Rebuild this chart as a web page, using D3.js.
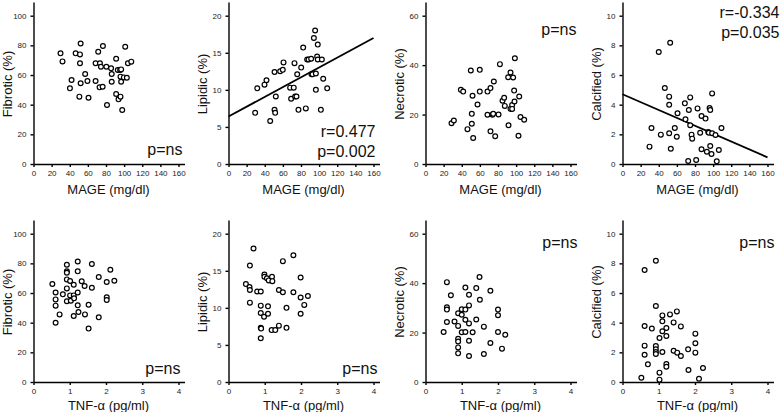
<!DOCTYPE html>
<html>
<head>
<meta charset="utf-8">
<script src="https://cdn.jsdelivr.net/npm/d3@7"></script>
<style>
  body { margin: 0; background: #fff; }
  svg { display: block; }
  .tick text { font-family: "Liberation Sans", Arial, sans-serif; font-size: 8px; fill: #222; }
  .axis path, .axis line { stroke: #000; stroke-width: 1.4; }
  .title { font-family: "Liberation Sans", Arial, sans-serif; font-size: 13px; fill: #111; }
  .stat { font-family: "Liberation Sans", Arial, sans-serif; font-size: 16px; fill: #111; }
</style>
</head>
<body>
<div id="main"></div>
<script>
// tick labels
const mageTicks = [0, 20, 40, 60, 80, 100, 120, 140, 160];
const tnfTicks = [0, 1, 2, 3, 4];
const fibroticTicks = [0, 20, 40, 60, 80, 100];
const lipidicTicks = [0, 5, 10, 15, 20];
const necroticTicks = [0, 20, 40, 60];
const calcifiedTicks = [0, 2, 4, 6, 8, 10];

// [MAGE or TNF-a, plaque %]
const fibroticMage = [[29.8,74.6],[32,69.2],[46.5,74.6],[52,81.3],[51.3,73.9],[51.3,67.9],[50.6,45.4],[42,56.6],[40.2,51],[52,54.4],[57,60.7],[59.5,56],[60.7,44.7],[68.5,56],[68.5,67.9],[71.4,75.7],[73.3,67.9],[74.4,65.6],[76.6,79.6],[72.9,51.7],[76.3,52.1],[80.4,65.6],[81.1,39.8],[85.6,64.5],[86.3,60.7],[86.3,55.5],[91.2,71],[91.2,47.2],[93,63.4],[93.8,43.6],[95.6,63.4],[96,58.9],[96.7,63.8],[96,45.4],[96.7,55.5],[97.9,36.4],[99.7,58.4],[101.2,79.1],[103,58.2],[104.2,67.9],[107.9,69]];
const lipidicMage = [[29.4,6.9],[31.7,10.2],[39.7,10.7],[41.9,11.3],[46,5.8],[50.8,12.4],[50.8,7.3],[51.5,6.9],[52.2,9.1],[57,12.5],[59.9,12.7],[60.7,13.7],[68,10.3],[69.1,8.8],[72,10.3],[72.8,13.6],[73.5,9.1],[75,9.1],[75.8,12.1],[77.2,7.3],[80.2,13],[82.4,15.7],[85.3,7.5],[86.8,14.1],[88.3,14.1],[91.2,14.2],[91.6,12.1],[92.7,12.1],[94.2,17],[95.6,18],[96.4,12.2],[96.4,10],[97.8,14.5],[98.5,14.1],[98.5,16.1],[101.9,7.3],[103,14.1],[104.5,11.5],[108.9,10.2]];
const necroticMage = [[28.7,16.5],[31.3,17.6],[39,30],[41.6,29.3],[46.3,14.1],[50,37.8],[51.1,20.3],[51.1,16.3],[51.9,27.6],[52.6,10.5],[57.4,24.1],[59.9,29.3],[59.9,38.1],[68.4,29.3],[68.4,19.9],[71.7,30.7],[71.7,13.2],[73.9,19.9],[74.7,20.3],[75.4,33.4],[76.9,11.2],[80.6,20],[82.1,40.4],[85,25.6],[86.8,26.8],[87.5,23.5],[91.6,15.7],[91.2,35.1],[93.8,37],[93.8,22.3],[95.6,23.9],[95.6,22.3],[96.7,35],[97.8,29.7],[98.6,42.8],[98.2,25.3],[102.6,11.4],[103.4,27.3],[104.8,19],[108.9,17.9]];
const calcifiedMage = [[29.8,1.17],[32,2.43],[42.3,1.98],[40,7.55],[46.7,5.12],[51.5,4.54],[51.5,4],[51.5,2.07],[52.6,8.18],[53.3,1.03],[57.7,2.43],[59.9,1.84],[60.7,3.42],[68.8,4.09],[69.5,3.01],[72.5,0.2],[73.2,3.64],[74.7,4.49],[74.7,2.61],[76.2,1.98],[76.9,1.71],[81.3,0.27],[82.8,3.75],[85.7,2.11],[87.2,3.24],[87.2,0.99],[91.6,3.06],[93.1,0.83],[94.6,2.16],[95.3,2.11],[96.1,3.78],[96.8,3.64],[96.8,1.21],[98.2,0.67],[98.9,4.76],[98.9,2.07],[102.6,1.96],[104,0.18],[106.3,0.94],[109.2,2.43]];
const fibroticTnf = [[0.52,66.1],[0.61,60.4],[0.61,55.7],[0.61,51.5],[0.61,40],[0.72,45.6],[0.81,59.1],[0.92,79.1],[0.92,74.6],[0.92,73.7],[0.92,69.2],[0.92,63.1],[0.92,54.4],[1.01,68.1],[1.01,58.4],[1.03,54.8],[1.11,65.6],[1.11,58.4],[1.11,44.5],[1.12,56.4],[1.22,81.3],[1.22,74.6],[1.22,60.4],[1.22,51.7],[1.24,47.2],[1.33,67.9],[1.41,64.7],[1.42,45.6],[1.52,52.1],[1.52,36],[1.61,79.6],[1.61,63.6],[1.8,43.6],[1.8,70.8],[2.02,67.4],[2.02,57.1],[2.02,55.3],[2.12,75.7],[2.23,68.3]];
const lipidicTnf = [[0.48,13.2],[0.58,12.8],[0.59,12.4],[0.59,15.7],[0.59,10.7],[0.69,18],[0.79,12.2],[0.89,10.3],[0.89,12.2],[0.89,9.3],[0.89,7.3],[0.89,5.9],[0.9,7.2],[0.98,8.8],[0.99,14.5],[0.99,14.2],[1.06,14],[1.09,10.2],[1.09,9.2],[1.11,13.7],[1.19,7],[1.2,14.2],[1.21,13.6],[1.29,7],[1.39,12.4],[1.39,7.6],[1.5,12.1],[1.5,16.3],[1.6,10],[1.6,7.3],[1.79,17.1],[1.79,12.1],[1.99,14.1],[1.99,11.4],[1.99,9.2],[2.09,10.4],[2.19,11.6]];
const necroticTnf = [[0.5,20.2],[0.59,40.4],[0.59,30.2],[0.59,29.3],[0.59,24.3],[0.7,35.1],[0.8,24.5],[0.9,27.8],[0.9,22.7],[0.9,17.5],[0.9,16.4],[0.9,14],[0.9,11.6],[1,29.4],[1,27.2],[1,20.1],[1.1,38.2],[1.1,29.3],[1.1,25.2],[1.1,20.2],[1.2,35.3],[1.2,31],[1.2,23.7],[1.2,16.7],[1.2,10.5],[1.3,20.1],[1.4,38],[1.4,25.3],[1.49,42.5],[1.5,33.3],[1.61,22.4],[1.61,11.3],[1.79,36.9],[1.79,15.8],[2,29.3],[2,27],[2,20.2],[2.11,13.5],[2.2,19.1]];
const calcifiedTnf = [[0.52,0.29],[0.61,7.55],[0.61,3.78],[0.61,2.45],[0.61,1.84],[0.7,1.19],[0.81,3.6],[0.92,8.18],[0.92,5.12],[0.92,2.43],[0.92,2.2],[0.92,2.02],[0.92,1.89],[1.02,2.97],[1.02,0.63],[1.02,0.16],[1.1,4.49],[1.1,4.09],[1.1,3.42],[1.1,2.02],[1.21,3.64],[1.21,3.1],[1.21,1.21],[1.21,1.03],[1.31,4.56],[1.41,4.02],[1.41,2.11],[1.5,4.76],[1.51,1.98],[1.61,3.75],[1.61,1.75],[1.81,2.2],[1.82,0.81],[2.01,3.26],[2.01,2.61],[2.01,1.98],[2.11,0.22],[2.22,0.94]];

// regression line end points
const lipidicMageFit = [[0, 6.4], [160, 17.0]];
const calcifiedMageFit = [[0, 4.7], [160, 0.45]];

// statistics shown in each panel
const statsText = [
    ['p=ns'], ['r=0.477', 'p=0.002'], ['p=ns'], ['r=-0.334', 'p=0.035'],
    ['p=ns'], ['p=ns'], ['p=ns'], ['p=ns']
];

const width = 784, height = 412;
const colX = [33.5, 228.5, 425.5, 622.5];
const rowY = [164, 382];
const plotW = 145, plotH = 148.3;

const panels = [
    { col: 0, row: 0, data: fibroticMage, xTicks: mageTicks, yTicks: fibroticTicks, xTitle: 'MAGE (mg/dl)', yTitle: 'Fibrotic (%)', stat: { dx: 149, dy: -9 } },
    { col: 1, row: 0, data: lipidicMage, xTicks: mageTicks, yTicks: lipidicTicks, xTitle: 'MAGE (mg/dl)', yTitle: 'Lipidic (%)', fit: lipidicMageFit, stat: { dx: 147, dy: -27 } },
    { col: 2, row: 0, data: necroticMage, xTicks: mageTicks, yTicks: necroticTicks, xTitle: 'MAGE (mg/dl)', yTitle: 'Necrotic (%)', stat: { dx: 151, dy: -129 } },
    { col: 3, row: 0, data: calcifiedMage, xTicks: mageTicks, yTicks: calcifiedTicks, xTitle: 'MAGE (mg/dl)', yTitle: 'Calcified (%)', fit: calcifiedMageFit, stat: { dx: 157, dy: -146 } },
    { col: 0, row: 1, data: fibroticTnf, xTicks: tnfTicks, yTicks: fibroticTicks, xTitle: 'TNF-α (pg/ml)', yTitle: 'Fibrotic (%)', stat: { dx: 147, dy: -8 } },
    { col: 1, row: 1, data: lipidicTnf, xTicks: tnfTicks, yTicks: lipidicTicks, xTitle: 'TNF-α (pg/ml)', yTitle: 'Lipidic (%)', stat: { dx: 149, dy: -8 } },
    { col: 2, row: 1, data: necroticTnf, xTicks: tnfTicks, yTicks: necroticTicks, xTitle: 'TNF-α (pg/ml)', yTitle: 'Necrotic (%)', stat: { dx: 152, dy: -134 } },
    { col: 3, row: 1, data: calcifiedTnf, xTicks: tnfTicks, yTicks: calcifiedTicks, xTitle: 'TNF-α (pg/ml)', yTitle: 'Calcified (%)', stat: { dx: 152, dy: -134 } }
];

const svg = d3.select('#main').append('svg').attr('width', width).attr('height', height);

function drawPanel(p, i) {
    const x0 = colX[p.col], y0 = rowY[p.row];
    const xMax = p.xTicks[p.xTicks.length - 1];
    const yMax = p.yTicks[p.yTicks.length - 1];

    // axis lines run a little past the last tick
    const xScale = d3.scaleLinear().domain([0, xMax * 151 / plotW]).range([x0, x0 + 151]);
    const yScale = d3.scaleLinear().domain([0, yMax * 162 / plotH]).range([y0, y0 - 162]);

    const g = svg.append('g');

    g.append('g')
        .attr('class', 'axis')
        .attr('transform', `translate(0,${y0})`)
        .call(d3.axisBottom(xScale).tickValues(p.xTicks).tickFormat(d3.format('d'))
            .tickSize(3).tickSizeOuter(0).tickPadding(3));

    g.append('g')
        .attr('class', 'axis')
        .attr('transform', `translate(${x0},0)`)
        .call(d3.axisLeft(yScale).tickValues(p.yTicks).tickFormat(d3.format('d'))
            .tickSize(3).tickSizeOuter(0).tickPadding(4));

    if (p.fit) {
        g.append('line')
            .attr('x1', xScale(p.fit[0][0])).attr('y1', yScale(p.fit[0][1]))
            .attr('x2', xScale(p.fit[1][0])).attr('y2', yScale(p.fit[1][1]))
            .style('stroke', '#000')
            .style('stroke-width', 1.8);
    }

    g.selectAll('.dot')
        .data(p.data)
        .enter()
            .append('circle')
                .attr('class', 'dot')
                .attr('cx', d => xScale(d[0]))
                .attr('cy', d => yScale(d[1]))
                .attr('r', 2.4)
                .style('fill', '#fff')
                .style('stroke', '#000')
                .style('stroke-width', 1.2);

    g.append('text')
        .attr('class', 'title')
        .attr('x', x0 + 75)
        .attr('y', y0 + (p.row === 0 ? 30 : 28))
        .style('text-anchor', 'middle')
        .text(p.xTitle);

    const ty = y0 - 80, tx = x0 - 22;
    g.append('text')
        .attr('class', 'title')
        .attr('x', tx)
        .attr('y', ty)
        .style('text-anchor', 'middle')
        .attr('transform', `rotate(-90,${tx},${ty})`)
        .text(p.yTitle);

    g.selectAll('.stat')
        .data(statsText[i])
        .enter()
            .append('text')
                .attr('class', 'stat')
                .attr('x', x0 + p.stat.dx)
                .attr('y', (d, k) => y0 + p.stat.dy + k * 20)
                .style('text-anchor', 'end')
                .text(d => d);
}

panels.forEach(drawPanel);
</script>
</body>
</html>
